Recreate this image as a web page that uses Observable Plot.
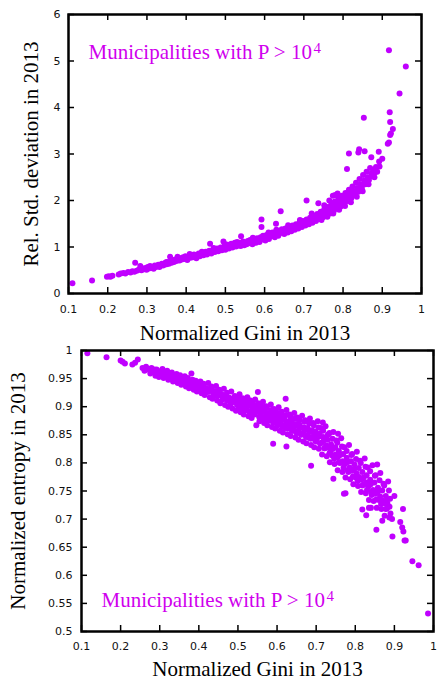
<!DOCTYPE html>
<html>
<head>
<meta charset="utf-8">
<script src="https://cdn.jsdelivr.net/npm/d3@7"></script>
<script src="https://cdn.jsdelivr.net/npm/@observablehq/plot@0.6"></script>
<style>
  html, body { margin: 0; padding: 0; background: #fff; }
  #chart svg { display: block; }
</style>
</head>
<body>
<div id="chart"></div>
<script>
// ---------- data ----------
const xTicks = [0.1, 0.2, 0.3, 0.4, 0.5, 0.6, 0.7, 0.8, 0.9, 1];
const topYTicks = [0, 1, 2, 3, 4, 5, 6];
const botYTicks = [0.5, 0.55, 0.6, 0.65, 0.7, 0.75, 0.8, 0.85, 0.9, 0.95, 1];

const xTitle = "Normalized Gini in 2013";
const topYTitle = "Rel. Std. deviation in 2013";
const botYTitle = "Normalized entropy in 2013";
const noteText = "Municipalities with P > 10";
const noteSup = "4";

// [normalized Gini, relative std. deviation]
const topPoints = [
[0.11,0.22],[0.16,0.28],[0.198,0.36],[0.203,0.37],[0.207,0.36],[0.212,0.38],[0.228,0.41],[0.233,0.43],
[0.24,0.44],[0.245,0.43],[0.252,0.46],[0.258,0.45],[0.263,0.48],[0.27,0.66],[0.268,0.47],[0.274,0.49],
[0.279,0.51],[0.283,0.59],[0.286,0.50],[0.289,0.54],[0.292,0.52],[0.296,0.55],[0.299,0.51],[0.302,0.57],
[0.305,0.54],[0.308,0.59],[0.311,0.55],[0.314,0.57],[0.317,0.53],[0.32,0.60],[0.323,0.57],[0.326,0.59],
[0.329,0.62],[0.332,0.57],[0.335,0.61],[0.338,0.64],[0.341,0.60],[0.344,0.62],[0.347,0.66],[0.35,0.63],
[0.353,0.67],[0.356,0.64],[0.359,0.79],[0.36,0.69],[0.363,0.66],[0.366,0.71],[0.369,0.68],[0.372,0.73],
[0.375,0.70],[0.378,0.79],[0.38,0.74],[0.383,0.71],[0.386,0.76],[0.389,0.73],[0.392,0.78],[0.395,0.74],
[0.398,0.80],[0.40,0.76],[0.403,0.72],[0.406,0.79],[0.409,0.85],[0.411,0.77],[0.414,0.82],[0.417,0.78],
[0.42,0.84],[0.423,0.80],[0.426,0.76],[0.429,0.83],[0.432,0.86],[0.435,0.80],[0.438,0.84],[0.441,0.88],
[0.444,0.82],[0.447,0.86],[0.45,0.90],[0.453,0.84],[0.456,0.88],[0.459,0.92],[0.461,1.07],[0.464,0.86],
[0.467,0.91],[0.47,0.95],[0.473,0.89],[0.476,0.93],[0.479,0.97],[0.482,0.91],[0.485,0.95],[0.488,0.99],
[0.491,0.93],[0.495,1.12],[0.494,0.97],[0.497,1.01],[0.50,0.94],[0.503,0.99],[0.506,1.05],[0.509,0.97],
[0.512,1.02],[0.515,1.07],[0.518,0.99],[0.521,1.04],[0.524,1.09],[0.527,1.01],[0.53,1.06],[0.533,1.03],
[0.536,1.09],[0.54,1.23],[0.539,1.02],[0.542,1.07],[0.545,1.12],[0.548,1.04],[0.551,1.09],[0.554,1.06],
[0.557,1.13],[0.56,1.08],[0.563,1.15],[0.566,1.10],[0.569,1.06],[0.572,1.17],[0.575,1.12],[0.578,1.09],
[0.581,1.19],[0.584,1.14],[0.587,1.11],[0.592,1.59],[0.592,1.43],[0.59,1.21],[0.593,1.16],[0.596,1.24],
[0.599,1.19],[0.602,1.14],[0.605,1.26],[0.608,1.21],[0.611,1.17],[0.614,1.28],[0.617,1.23],[0.62,1.31],
[0.623,1.26],[0.626,1.21],[0.629,1.50],[0.629,1.33],[0.632,1.28],[0.635,1.24],[0.638,1.35],[0.641,1.77],
[0.641,1.30],[0.644,1.38],[0.647,1.33],[0.65,1.28],[0.653,1.40],[0.656,1.35],[0.659,1.31],[0.662,1.43],
[0.665,1.38],[0.668,1.34],[0.671,1.46],[0.674,1.41],[0.677,1.37],[0.68,1.49],[0.683,1.44],[0.686,1.40],
[0.689,1.52],[0.692,1.47],[0.695,1.43],[0.698,1.56],[0.701,1.50],[0.704,1.46],[0.707,2.00],[0.707,1.59],
[0.71,1.53],[0.713,1.49],[0.716,1.63],[0.719,1.57],[0.722,1.52],[0.725,1.67],[0.728,1.61],[0.731,1.56],
[0.734,1.71],[0.737,1.94],[0.737,1.65],[0.74,1.60],[0.743,1.76],[0.746,1.69],[0.749,1.64],[0.752,1.81],
[0.755,1.74],[0.758,1.68],[0.761,1.86],[0.764,1.79],[0.767,1.72],[0.77,1.92],[0.773,1.84],[0.776,1.77],
[0.779,1.98],[0.78,2.12],[0.782,1.89],[0.785,1.82],[0.788,2.04],[0.791,1.95],[0.794,1.87],[0.797,2.10],
[0.80,2.01],[0.803,1.93],[0.806,2.16],[0.809,2.07],[0.81,2.68],[0.812,1.99],[0.815,3.01],[0.815,2.23],
[0.818,2.13],[0.821,2.05],[0.824,2.30],[0.827,2.20],[0.83,2.12],[0.833,2.38],[0.836,2.27],[0.839,3.03],
[0.839,2.19],[0.841,3.10],[0.842,2.46],[0.845,2.35],[0.848,2.27],[0.851,2.55],[0.853,3.78],[0.854,2.43],
[0.855,3.06],[0.857,2.35],[0.86,2.62],[0.863,2.50],[0.866,2.44],[0.869,2.70],[0.872,2.93],[0.872,2.58],
[0.875,2.52],[0.878,2.66],[0.881,2.60],[0.884,2.72],[0.887,2.62],[0.891,3.05],[0.892,2.84],[0.893,2.73],
[0.90,2.90],[0.914,3.22],[0.917,3.25],[0.919,3.90],[0.917,5.23],[0.92,3.41],[0.92,3.69],[0.922,3.44],
[0.927,3.54],[0.944,4.30],[0.96,4.88],
[0.745,1.58],[0.76,1.65],[0.775,1.72],[0.79,1.80],[0.805,1.88],[0.82,1.96],[0.835,2.08],[0.85,2.20],
[0.865,2.35],[0.88,2.50],[0.774,2.10],[0.786,2.15],[0.765,2.00],[0.752,1.90],[0.72,1.72],[0.69,1.58],
[0.66,1.47],[0.63,1.37],[0.61,1.31],[0.57,1.20],[0.53,1.11],[0.5,1.06],[0.47,0.98],[0.44,0.90],
[0.41,0.82],[0.38,0.76],[0.35,0.68]
];

// [normalized Gini, normalized entropy]
const botPoints = [
[0.115,0.995],[0.164,0.988],[0.20,0.982],[0.205,0.98],[0.211,0.977],[0.23,0.975],[0.237,0.978],[0.244,0.984],
[0.256,0.969],[0.261,0.964],[0.265,0.971],[0.268,0.966],
[0.272,0.967],[0.276,0.959],[0.279,0.969],[0.283,0.962],[0.286,0.966],
[0.289,0.955],[0.292,0.966],[0.295,0.961],[0.298,0.953],[0.301,0.963],[0.304,0.958],[0.307,0.967],
[0.31,0.951],[0.313,0.960],[0.316,0.956],[0.319,0.964],[0.322,0.948],[0.325,0.958],[0.328,0.953],
[0.331,0.961],[0.334,0.945],[0.337,0.955],[0.340,0.949],[0.343,0.958],[0.346,0.942],[0.349,0.952],
[0.352,0.956],[0.355,0.939],[0.358,0.949],[0.361,0.944],[0.364,0.954],[0.367,0.936],[0.369,0.947],
[0.372,0.951],[0.375,0.933],[0.378,0.944],[0.381,0.959],[0.381,0.938],[0.384,0.948],[0.387,0.930],[0.389,0.942],
[0.392,0.946],[0.395,0.927],[0.398,0.938],[0.401,0.932],[0.404,0.945],[0.407,0.924],[0.409,0.936],
[0.412,0.941],[0.415,0.921],[0.418,0.933],[0.421,0.926],[0.424,0.942],[0.428,0.917],[0.429,0.930],
[0.432,0.936],[0.435,0.914],[0.438,0.928],[0.441,0.920],[0.444,0.937],[0.447,0.911],[0.449,0.925],
[0.452,0.930],[0.455,0.906],[0.458,0.922],[0.461,0.913],[0.464,0.932],[0.467,0.903],[0.469,0.919],
[0.472,0.925],[0.475,0.900],[0.478,0.916],[0.481,0.904],[0.483,0.927],[0.486,0.897],[0.489,0.913],
[0.492,0.919],[0.495,0.893],[0.498,0.910],[0.501,0.899],[0.504,0.922],[0.507,0.890],[0.509,0.907],
[0.512,0.915],[0.515,0.886],[0.518,0.905],[0.521,0.894],[0.524,0.917],[0.527,0.883],[0.529,0.902],
[0.532,0.911],[0.535,0.880],[0.538,0.900],[0.541,0.888],[0.544,0.913],[0.547,0.867],[0.549,0.897],[0.551,0.926],
[0.552,0.906],[0.555,0.874],[0.558,0.895],[0.561,0.882],[0.564,0.909],[0.567,0.871],[0.569,0.892],
[0.572,0.901],[0.575,0.867],[0.578,0.889],[0.581,0.876],[0.584,0.904],[0.587,0.864],[0.589,0.886],[0.59,0.834],
[0.592,0.896],[0.595,0.861],[0.598,0.884],[0.601,0.869],[0.604,0.899],[0.607,0.857],[0.609,0.880],
[0.612,0.891],[0.615,0.854],[0.618,0.878],[0.621,0.863],[0.622,0.914],[0.624,0.829],[0.624,0.894],[0.627,0.851],[0.629,0.874],
[0.632,0.886],[0.635,0.848],[0.638,0.873],[0.641,0.857],[0.644,0.889],[0.647,0.845],[0.649,0.869],
[0.652,0.881],[0.655,0.841],[0.658,0.867],[0.661,0.851],[0.664,0.884],[0.667,0.838],[0.669,0.863],
[0.672,0.876],[0.675,0.835],[0.678,0.862],[0.681,0.845],[0.684,0.879],[0.687,0.795],[0.687,0.832],[0.689,0.858],
[0.692,0.871],[0.695,0.828],[0.698,0.856],[0.701,0.838],[0.704,0.874],[0.707,0.825],[0.709,0.852],
[0.712,0.862],[0.715,0.815],[0.717,0.872],[0.718,0.846],[0.721,0.826],[0.724,0.865],[0.727,0.812],[0.729,0.841],
[0.732,0.851],[0.734,0.853],[0.735,0.801],[0.738,0.833],[0.741,0.813],[0.744,0.772],[0.744,0.855],[0.747,0.798],[0.749,0.828],
[0.752,0.840],[0.755,0.787],[0.756,0.852],[0.758,0.821],[0.761,0.800],[0.764,0.844],[0.767,0.784],[0.769,0.816],
[0.771,0.745],[0.772,0.828],[0.775,0.746],[0.775,0.774],[0.778,0.809],[0.781,0.787],[0.784,0.832],[0.787,0.771],[0.789,0.803],
[0.792,0.816],[0.795,0.762],[0.798,0.797],[0.801,0.774],[0.804,0.820],[0.807,0.759],[0.809,0.791],
[0.812,0.804],[0.815,0.748],[0.818,0.717],[0.818,0.784],[0.821,0.761],[0.824,0.808],[0.827,0.746],[0.828,0.707],[0.829,0.778],
[0.832,0.792],[0.835,0.734],[0.838,0.770],[0.841,0.748],[0.844,0.796],[0.847,0.732],[0.849,0.765],[0.835,0.72],[0.84,0.72],
[0.852,0.778],[0.854,0.681],[0.856,0.797],[0.855,0.720],[0.858,0.756],[0.861,0.734],[0.864,0.782],[0.867,0.718],[0.869,0.697],[0.869,0.751],
[0.872,0.763],[0.875,0.706],[0.878,0.741],[0.881,0.719],[0.882,0.728],[0.884,0.767],[0.887,0.703],[0.889,0.736],
[0.894,0.70],[0.895,0.669],[0.90,0.741],[0.915,0.695],[0.92,0.685],[0.922,0.718],[0.923,0.678],[0.926,0.662],
[0.929,0.662],[0.946,0.625],[0.962,0.618],[0.986,0.532],
[0.2995,0.959],[0.3055,0.961],[0.3115,0.956],[0.3175,0.958],[0.3235,0.953],[0.3295,0.955],[0.3355,0.950],[0.3415,0.953],
[0.3475,0.948],[0.3535,0.950],[0.3595,0.944],[0.3655,0.947],[0.3715,0.942],[0.3775,0.939],[0.3835,0.942],[0.3895,0.936],
[0.3955,0.939],[0.4015,0.934],[0.4075,0.937],[0.4135,0.929],[0.4195,0.933],[0.4255,0.927],[0.4315,0.930],[0.4375,0.923],
[0.4435,0.927],[0.4495,0.920],[0.4555,0.923],[0.4615,0.916],[0.4675,0.920],[0.4735,0.911],[0.4795,0.914],[0.4855,0.908],
[0.4915,0.911],[0.4975,0.904],[0.5035,0.908],[0.5095,0.900],[0.5155,0.903],[0.5215,0.897],[0.5275,0.902],[0.5335,0.893],
[0.5395,0.897],[0.5455,0.891],[0.5515,0.894],[0.5575,0.887],[0.5635,0.891],[0.5695,0.882],[0.5755,0.886],[0.5815,0.879],
[0.5875,0.883],[0.5935,0.875],[0.5995,0.880],[0.6055,0.872],[0.6115,0.876],[0.6175,0.867],[0.6235,0.871],[0.6295,0.864],
[0.6355,0.869],[0.6415,0.861],[0.6475,0.866],[0.6535,0.857],[0.6595,0.862],[0.6655,0.853],[0.6715,0.858],[0.6775,0.849],
[0.6835,0.855],[0.6895,0.846],[0.6955,0.850],[0.7015,0.843],[0.7075,0.847],[0.7135,0.836],[0.7195,0.840],[0.7255,0.831],
[0.7315,0.827],[0.7375,0.822],[0.7435,0.825],[0.7495,0.815],[0.7555,0.810],[0.7615,0.814],[0.7675,0.803],[0.7735,0.798],
[0.7795,0.801],[0.7855,0.792],[0.7915,0.786],[0.7975,0.789],[0.8035,0.781],[0.8095,0.775],[0.8155,0.770],[0.8215,0.774],
[0.8275,0.765],[0.8335,0.758],[0.8395,0.762],[0.8455,0.752],[0.8515,0.745],[0.8575,0.748],[0.8635,0.740],[0.8695,0.733],
[0.8755,0.728],[0.8815,0.735],[0.8875,0.722],
[0.502,0.915],[0.506,0.898],[0.514,0.913],[0.518,0.894],[0.526,0.909],[0.530,0.889],[0.538,0.906],[0.542,0.886],
[0.550,0.903],[0.554,0.882],[0.562,0.900],[0.566,0.879],[0.574,0.898],[0.578,0.876],[0.586,0.894],[0.590,0.871],
[0.598,0.891],[0.602,0.867],[0.610,0.888],[0.614,0.864],[0.622,0.885],[0.626,0.861],[0.634,0.882],[0.638,0.857],
[0.646,0.879],[0.650,0.853],[0.658,0.876],[0.662,0.850],[0.670,0.873],[0.674,0.846],[0.682,0.870],[0.686,0.843],
[0.694,0.867],[0.698,0.839],[0.706,0.863],[0.710,0.834],[0.718,0.857],[0.722,0.826],[0.730,0.850],[0.734,0.817],
[0.742,0.843],[0.746,0.808],[0.754,0.836],[0.758,0.801],[0.766,0.829],[0.770,0.792],[0.778,0.821],[0.782,0.784],
[0.790,0.814],[0.794,0.776],[0.802,0.807],[0.806,0.768],[0.814,0.800],[0.818,0.760],[0.826,0.793],[0.830,0.752],
[0.838,0.785],[0.842,0.743],[0.850,0.777],[0.854,0.735],[0.862,0.769],[0.866,0.727],[0.874,0.760],[0.878,0.718],
[0.886,0.751],[0.890,0.710]
];

// ---------- styling ----------
const dotColor = "#c000ff";
const noteColor = "#d000ee";
const serif = "'Liberation Serif', 'Times New Roman', serif";
const sans = "'DejaVu Sans', sans-serif";
const W = 439;
const tick = 6;

function panel({height, mt, mb, ml, mr, yDomain, yTicks, points, yTitle, yTitleDx, xTitleDy, xPad, yPad, noteAnchor, noteDy}) {
  const iw = W - ml - mr;
  const ih = height - mt - mb;
  return Plot.plot({
    width: W, height,
    marginTop: mt, marginBottom: mb, marginLeft: ml, marginRight: mr,
    style: {fontFamily: sans, fontSize: "11px", color: "black", background: "white", overflow: "visible"},
    x: {domain: [0.1, 1]},
    y: {domain: yDomain},
    marks: [
      Plot.dot(points, {x: d => d[0], y: d => d[1], r: 3, fill: dotColor, stroke: "none"}),
      // inward ticks on all four sides (gnuplot style)
      Plot.tickX(xTicks, {x: d => d, insetTop: ih - tick, stroke: "black", strokeWidth: 1.5}),
      Plot.tickX(xTicks, {x: d => d, insetBottom: ih - tick, stroke: "black", strokeWidth: 1.5}),
      Plot.tickY(yTicks, {y: d => d, insetRight: iw - tick, stroke: "black", strokeWidth: 1.5}),
      Plot.tickY(yTicks, {y: d => d, insetLeft: iw - tick, stroke: "black", strokeWidth: 1.5}),
      Plot.frame({stroke: "black", strokeWidth: 2.5}),
      Plot.axisX(xTicks, {tickSize: 0, tickPadding: xPad, tickFormat: d => String(d), label: null, fontSize: 11, fill: "#111"}),
      Plot.axisY(yTicks, {tickSize: 0, tickPadding: yPad, tickFormat: d => String(d), label: null, fontSize: 11, fill: "#111"}),
      Plot.text([xTitle], {text: d => d, frameAnchor: "bottom", dy: xTitleDy, textAnchor: "middle", lineAnchor: "bottom", fontSize: 21, fontFamily: serif, fill: "black"}),
      Plot.text([yTitle], {text: d => d, frameAnchor: "left", dx: yTitleDx, rotate: -90, textAnchor: "middle", lineAnchor: "bottom", fontSize: 21, fontFamily: serif, fill: "black"}),
      Plot.text([noteText], {text: d => d, frameAnchor: noteAnchor, dx: 20, dy: noteDy, textAnchor: "start", lineAnchor: "bottom", fontSize: 21, fontFamily: serif, fill: noteColor}),
      Plot.text([noteSup], {text: d => d, frameAnchor: noteAnchor, dx: 245, dy: noteDy - 6, textAnchor: "start", lineAnchor: "bottom", fontSize: 15, fontFamily: serif, fill: noteColor})
    ]
  });
}

const topChart = panel({
  height: 345, mt: 14, mb: 52, ml: 68, mr: 18,
  yDomain: [0, 6], yTicks: topYTicks, points: topPoints,
  yTitle: topYTitle, yTitleDx: -31, xTitleDy: 46, xPad: 12, yPad: 8,
  noteAnchor: "top-left", noteDy: 44
});
const bottomChart = panel({
  height: 334, mt: 5, mb: 48, ml: 81, mr: 6,
  yDomain: [0.5, 1], yTicks: botYTicks, points: botPoints,
  yTitle: botYTitle, yTitleDx: -57, xTitleDy: 44, xPad: 11, yPad: 9,
  noteAnchor: "bottom-left", noteDy: -25
});
document.getElementById("chart").append(topChart, bottomChart);
</script>
</body>
</html>
